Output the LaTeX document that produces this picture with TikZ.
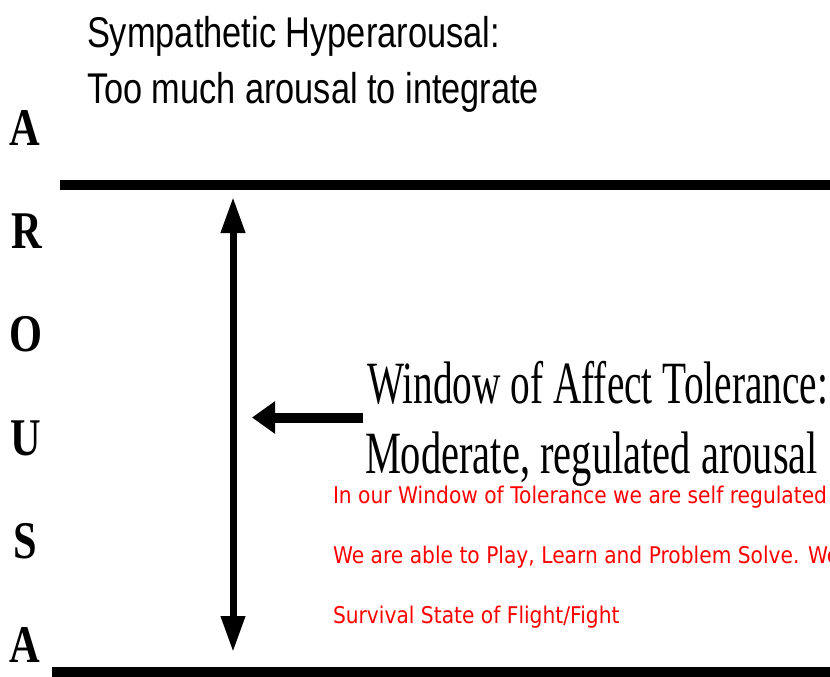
\documentclass[tikz,border=0pt]{standalone}
\usepackage{fontspec}
\usepackage{graphicx}
\setmainfont{Liberation Serif}
\newfontfamily\headfont{Liberation Sans}
\newfontfamily\redfont{DejaVu Sans}
\usetikzlibrary{arrows.meta}
\definecolor{txtred}{HTML}{FF0000}
\newlength\redw
\settowidth{\redw}{\redfont\fontsize{23}{27}\selectfont In our Window of Tolerance we are self regulated}
\begin{document}
\begin{tikzpicture}[x=1pt,y=-1pt,
  every node/.style={inner sep=0pt,outer sep=0pt},
  letterstyle/.style={anchor=base,font=\bfseries\fontsize{53}{53}\selectfont},
  headstyle/.style={anchor=base west,font=\headfont\fontsize{43}{43}\selectfont},
  winstyle/.style={anchor=base west,font=\fontsize{60}{60}\selectfont},
  redstyle/.style={anchor=base west,text=txtred,font=\redfont\fontsize{23}{27}\selectfont},
  barline/.style={line width=10pt},
  vshaft/.style={line width=7pt,{Triangle[length=36pt,width=23pt]}-{Triangle[length=36pt,width=23pt]}},
  hshaft/.style={line width=10pt,-{Triangle[length=23pt,width=31pt]}}]
\useasboundingbox (0,0) rectangle (830,677);
\clip (0,0) rectangle (830,677);
\pgfmathsetmacro\redscale{494/\redw}
% heading
\node[headstyle] (h1) at (87,48) {\resizebox{413pt}{\height}{Sympathetic Hyperarousal:}};
\node[headstyle] (h2) at (87,103) {\resizebox{452pt}{\height}{Too much arousal to integrate}};
% AROUSAL letters
\node[letterstyle] (l1) at (25,145) {\scalebox{0.8}[1]{A}};
\node[letterstyle] (l2) at (27,248) {\scalebox{0.8}[1]{R}};
\node[letterstyle] (l3) at (26,351) {\scalebox{0.8}[1]{O}};
\node[letterstyle] (l4) at (26,455) {\scalebox{0.8}[1]{U}};
\node[letterstyle] (l5) at (25,558) {\scalebox{0.8}[1]{S}};
\node[letterstyle] (l6) at (25,662) {\scalebox{0.8}[1]{A}};
% bars
\coordinate (tl) at (60,185); \coordinate (tr) at (832,185);
\coordinate (bl) at (52,672); \coordinate (br) at (832,672);
\draw[barline] (tl) -- (tr);
\draw[barline] (bl) -- (br);
% vertical double arrow
\coordinate (vtop) at (233,197); \coordinate (vbot) at (233,652);
\draw[vshaft] (vtop) -- (vbot);
% horizontal arrow
\coordinate (hstart) at (363,417.5); \coordinate (htip) at (252,417.5);
\draw[hshaft] (hstart) -- (htip);
% window text
\node[winstyle] (w1) at (367,403) {\resizebox{461pt}{\height}{Window of Affect Tolerance:}};
\node[winstyle] (w2) at (365,473) {\resizebox{453pt}{\height}{Moderate, regulated arousal}};
% red text
\node[redstyle] (r1) at (333,503) {\scalebox{\redscale}[1]{In our Window of Tolerance we are self regulated}};
\node[redstyle] (r2) at (333,563) {\scalebox{\redscale}[1]{We are able to Play, Learn and Problem Solve. We}};
\node[redstyle] (r3) at (333,623) {\scalebox{\redscale}[1]{Survival State of Flight/Fight}};
\end{tikzpicture}
\end{document}
